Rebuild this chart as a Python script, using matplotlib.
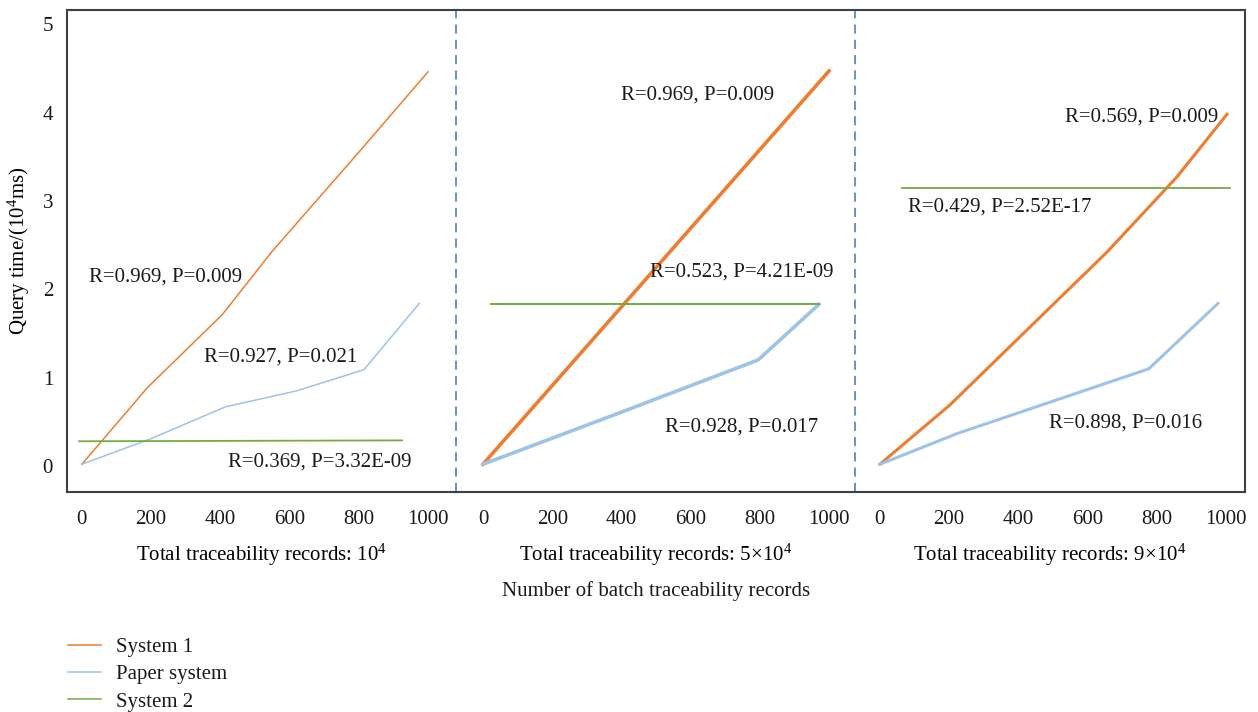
import matplotlib.pyplot as plt
from matplotlib.lines import Line2D

plt.rcParams["font.family"] = ["Liberation Serif", "DejaVu Serif"]
plt.rcParams["mathtext.fontset"] = "custom"
plt.rcParams["mathtext.rm"] = "Liberation Serif"
plt.rcParams["mathtext.it"] = "Liberation Serif:italic"
plt.rcParams["text.color"] = "#1a1a1a"

ORANGE = "#ED7D31"
BLUE = "#9DC3E6"
GREEN = "#70AD47"
SEP = "#4472C4"
FRAME = "#404040"
FS = 15

x_ticks = [0, 200, 400, 600, 800, 1000]
subtitles = [
    "Total traceability records: 10$^4$",
    "Total traceability records: 5×10$^4$",
    "Total traceability records: 9×10$^4$",
]

# panel 1 (10^4 records)
p1_sys1_x = [0, 190, 405, 550, 800, 1000]
p1_sys1_y = [0.02, 0.89, 1.71, 2.43, 3.55, 4.46]
p1_paper_x = [0, 200, 415, 620, 815, 975]
p1_paper_y = [0.02, 0.31, 0.67, 0.85, 1.09, 1.84]
p1_sys2_x = [-8, 925]
p1_sys2_y = [0.28, 0.29]

# panel 2 (5x10^4 records)
p2_sys1_x = [0, 200, 400, 600, 800, 1000]
p2_sys1_y = [0.02, 0.91, 1.80, 2.69, 3.58, 4.47]
p2_paper_x = [0, 400, 795, 971]
p2_paper_y = [0.02, 0.61, 1.20, 1.83]
p2_sys2_x = [23, 971]
p2_sys2_y = [1.83, 1.83]

# panel 3 (9x10^4 records)
p3_sys1_x = [0, 202, 656, 858, 1003]
p3_sys1_y = [0.02, 0.69, 2.42, 3.27, 3.98]
p3_paper_x = [0, 225, 777, 977]
p3_paper_y = [0.02, 0.37, 1.10, 1.84]
p3_sys2_x = [64, 1012]
p3_sys2_y = [3.15, 3.15]

# annotation text and anchor (left edge, vertical center)
p1_notes = [("R=0.969, P=0.009", 20, 2.14), ("R=0.927, P=0.021", 353, 1.23),
            ("R=0.369, P=3.32E-09", 421, 0.05)]
p2_notes = [("R=0.969, P=0.009", 399, 4.20), ("R=0.523, P=4.21E-09", 483, 2.20),
            ("R=0.928, P=0.017", 526, 0.44)]
p3_notes = [("R=0.569, P=0.009", 535, 3.95), ("R=0.429, P=2.52E-17", 81, 2.93),
            ("R=0.898, P=0.016", 489, 0.49)]

W, H = 1258, 712
fig = plt.figure(figsize=(W / 100, H / 100), dpi=100)

# panel pixel extents and x-limits
bounds = [(67, 456), (456, 855), (855, 1245)]
xlims = [(-43, 1081), (-78, 1075), (-72, 1055)]
top, bottom = 10, 492

axes = []
for (l, r), xl in zip(bounds, xlims):
    ax = fig.add_axes([l / W, 1 - bottom / H, (r - l) / W, (bottom - top) / H])
    ax.set_xlim(*xl)
    ax.set_ylim(-0.294, 5.16)
    ax.set_xticks(x_ticks)
    ax.tick_params(length=0, labelsize=FS, pad=13, labelcolor="#1a1a1a")
    for s in ax.spines.values():
        s.set_color(FRAME)
        s.set_linewidth(1.5)
    axes.append(ax)

ax1, ax2, ax3 = axes
ax1.set_yticks([0, 1, 2, 3, 4, 5])
ax1.tick_params(axis="y", pad=10)
ax1.set_ylabel("Query time/(10$^4$ms)", fontsize=FS, labelpad=8)
for ax in (ax2, ax3):
    ax.set_yticks([])

# inner borders are dashed blue separators
ax1.spines["right"].set_visible(False)
ax2.spines["left"].set_visible(False)
ax2.spines["right"].set_visible(False)
ax3.spines["left"].set_visible(False)
for ax in (ax2, ax3):
    ax.axvline(ax.get_xlim()[0], color=SEP, lw=1.1, ls=(0, (6, 4)), clip_on=False)

ax1.plot(p1_sys1_x, p1_sys1_y, color=ORANGE, lw=1.1)
ax1.plot(p1_paper_x, p1_paper_y, color=BLUE, lw=1.1)
ax1.plot(p1_sys2_x, p1_sys2_y, color=GREEN, lw=1.3)

ax2.plot(p2_sys1_x, p2_sys1_y, color=ORANGE, lw=2.6)
ax2.plot(p2_paper_x, p2_paper_y, color=BLUE, lw=2.6)
ax2.plot(p2_sys2_x, p2_sys2_y, color=GREEN, lw=1.4)

ax3.plot(p3_sys1_x, p3_sys1_y, color=ORANGE, lw=2.2)
ax3.plot(p3_paper_x, p3_paper_y, color=BLUE, lw=2.2)
ax3.plot(p3_sys2_x, p3_sys2_y, color=GREEN, lw=1.3)

for ax, notes in zip(axes, (p1_notes, p2_notes, p3_notes)):
    for txt, x, y in notes:
        ax.text(x, y, txt, fontsize=FS, ha="left", va="center")

for ax, sub in zip(axes, subtitles):
    ax.set_xlabel(sub, fontsize=FS, labelpad=9)

fig.text(656 / W, 1 - 591 / H, "Number of batch traceability records",
         fontsize=FS, ha="center", va="center")

handles = [Line2D([], [], color=ORANGE, lw=1.1),
           Line2D([], [], color=BLUE, lw=1.1),
           Line2D([], [], color=GREEN, lw=1.1)]
fig.legend(handles, ["System 1", "Paper system", "System 2"],
           loc="upper left", bbox_to_anchor=(49 / W, 1 - 619 / H),
           frameon=False, fontsize=FS, handlelength=1.6, handletextpad=0.7,
           labelspacing=0.36)

fig.savefig("out.png", dpi=100)
